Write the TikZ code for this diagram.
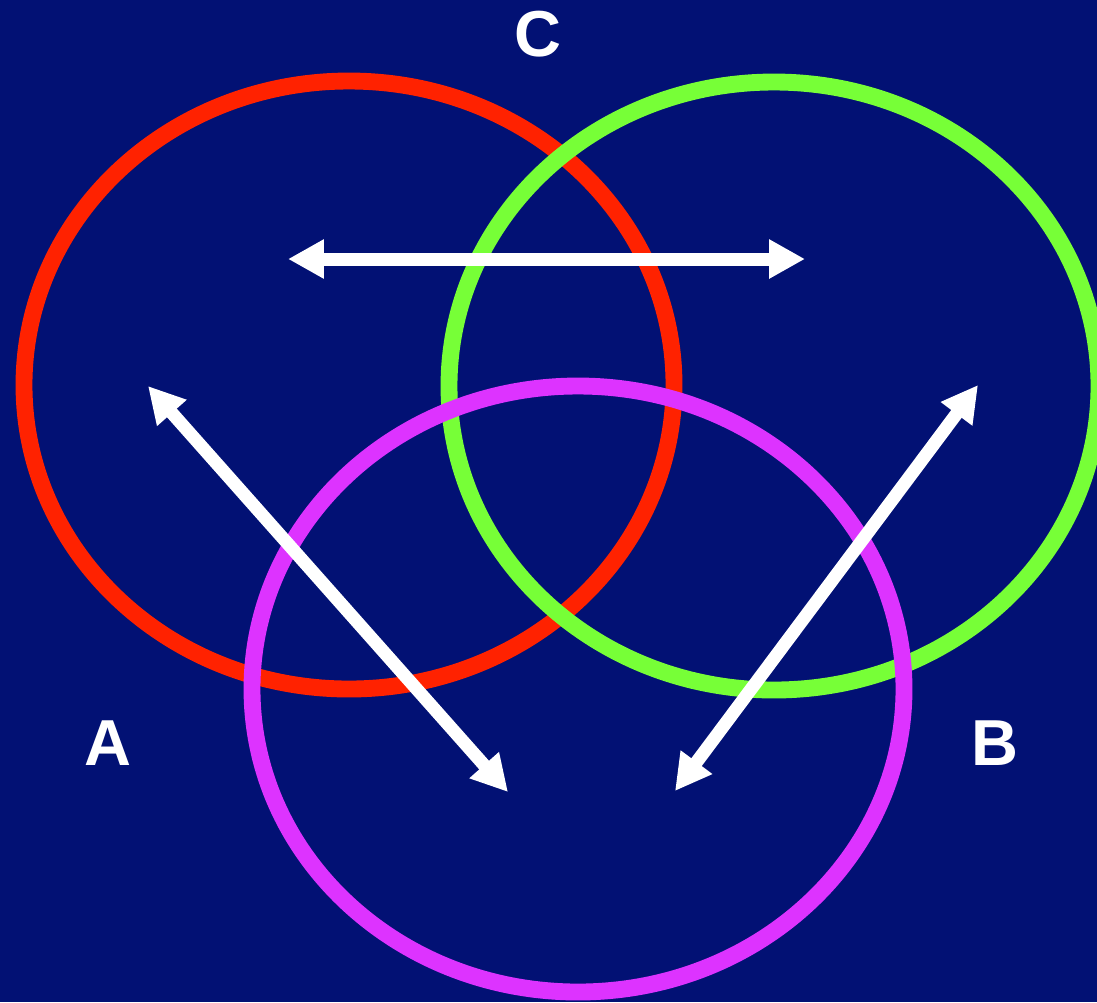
\documentclass[tikz,border=0pt]{standalone}
\usepackage{fontspec}
\setmainfont{Liberation Sans}
\usetikzlibrary{arrows.meta}
\definecolor{bgblue}{RGB}{2,17,116}
\definecolor{setred}{RGB}{255,34,0}
\definecolor{setgreen}{RGB}{119,255,55}
\definecolor{setmagenta}{RGB}{221,51,255}
\tikzset{
  ring/.style={line width=9.6pt},
  link/.style={white, line width=7.4pt, {Triangle[length=0.72cm,width=0.74cm]}-{Triangle[length=0.72cm,width=0.74cm]}},
  setlabel/.style={white, font=\fontsize{37}{40}\selectfont\bfseries}
}
\begin{document}
\begin{tikzpicture}[x=0.02cm, y=-0.02cm]
    \fill[bgblue] (0,0) rectangle (1097,1002);
    \useasboundingbox (0,0) rectangle (1097,1002);
    \draw[ring, setred] (349,385) ellipse [x radius=325, y radius=304];
    \draw[ring, setgreen] (774,386) ellipse [x radius=325, y radius=304];
    \draw[ring, setmagenta] (578,689) ellipse [x radius=326, y radius=303];
    \coordinate (cl) at (288,259);
    \coordinate (cr) at (805,259);
    \coordinate (al) at (148,386);
    \coordinate (ar) at (508,792);
    \coordinate (bl) at (675,791);
    \coordinate (br) at (978,385);
    \draw[link] (cl) -- (cr);
    \draw[link] (al) -- (ar);
    \draw[link] (bl) -- (br);
    \node (c) [setlabel] at (538,34) {C};
    \node (a) [setlabel] at (108,743) {A};
    \node (b) [setlabel] at (995,743) {B};
  \end{tikzpicture}
\end{document}
